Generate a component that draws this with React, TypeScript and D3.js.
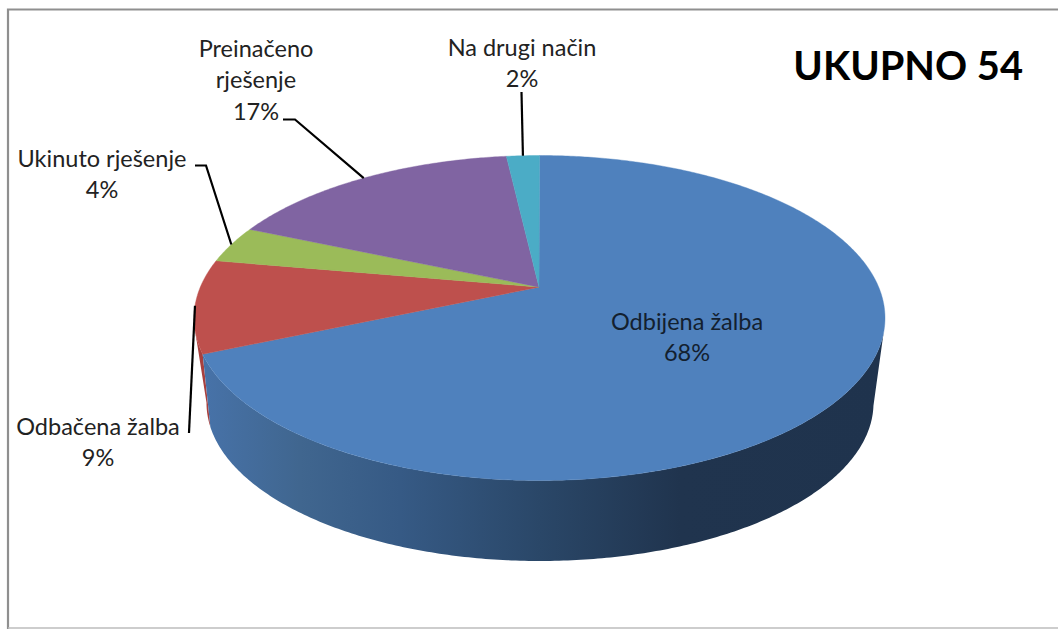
import React from "react";
import * as d3 from "d3";

const categories = ["Odbijena žalba", "Odbačena žalba", "Ukinuto rješenje", "Preinačeno rješenje", "Na drugi način"];
const counts = [37, 5, 2, 9, 1];
const percentLabels = ["68%", "9%", "4%", "17%", "2%"];
const colors = ["#4F81BD", "#BE504D", "#9BBB59", "#8064A2", "#4BACC6"];
const labelLines = [["Odbijena žalba"], ["Odbačena žalba"], ["Ukinuto rješenje"], ["Preinačeno", "rješenje"], ["Na drugi način"]];
const titleText = "UKUPNO 54";

const W = 1058, H = 629;
// Perspective model: a unit circle is projected on an ellipse, the pie centre moving along the vertical axis.
const topFace = { cx: 539.5, cy: 318, rx: 345.5, ry: 162.5, t: -0.19 };
const bottomFace = { cx: 540, cy: 403, rx: 333.5, ry: 158, t: -0.26 };
const SILHOUETTE_R = (106 * Math.PI) / 180;
const SILHOUETTE_L = (255 * Math.PI) / 180;

type Face = typeof topFace;
const project = (f: Face, a: number): [number, number] => {
  const u = Math.sin(a), v = -Math.cos(a);
  const d = 1 + f.t * v;
  return [f.cx + f.rx * (u * Math.sqrt(1 - f.t * f.t)) / d, f.cy + f.ry * (v + f.t) / d];
};
const apex: [number, number] = [topFace.cx - 0.5, topFace.cy + topFace.ry * topFace.t];
const sampleAngles = (a0: number, a1: number) => {
  const n = Math.max(2, Math.ceil(Math.abs(a1 - a0) / 0.01));
  return d3.range(n + 1).map((i) => a0 + ((a1 - a0) * i) / n);
};
const line = d3.line<[number, number]>();

const arcs = d3.pie<number>().sort(null).value((d) => d)(counts);

const wall = (a0: number, a1: number) =>
  line([
    ...sampleAngles(a0, a1).map((a) => project(topFace, a)),
    ...sampleAngles(a1, a0).map((a) => project(bottomFace, a)),
  ])! + "Z";

// Label placement: centre x and first baseline, plus the elbow of each leader.
const labelPos = [
  { x: 687, y: 330 },
  { x: 98, y: 435 },
  { x: 102, y: 167 },
  { x: 256, y: 57 },
  { x: 522, y: 56 },
];
const LINE_H = 31.3;
const leaders: ([number, number][] | null)[] = [
  null,
  [[189, 433]],
  [[195, 165.5], [206, 165.5]],
  [[283, 119.5], [295, 119.5]],
  [[521.5, 92]],
];

const gradientStops = [
  { x: 205, c: "#4772A8" },
  { x: 300, c: "#40668F" },
  { x: 400, c: "#365A85" },
  { x: 540, c: "#2A4768" },
  { x: 680, c: "#20344E" },
  { x: 885, c: "#1F334D" },
];
const FONT = "Lato, Carlito, Calibri, sans-serif";

export default function App() {
  const gx = d3.scaleLinear().domain([205, 885]).range([0, 1]);
  return (
    <svg width={W} height={H} viewBox={`0 0 ${W} ${H}`} style={{ position: "absolute", left: 0, top: 0, display: "block", background: "#fff" }}>
      <defs>
        <linearGradient id="blueSide" gradientUnits="userSpaceOnUse" x1={205} x2={885} y1={0} y2={0}>
          {gradientStops.map((s) => (
            <stop key={s.x} offset={gx(s.x)} stopColor={s.c} />
          ))}
        </linearGradient>
      </defs>
      <path d="M8 629V9.5H1058" fill="none" stroke="#8f8f8f" strokeWidth={2.2} />
      <line x1={8} x2={1058} y1={628} y2={628} stroke="#bdbdbd" strokeWidth={1.5} />

      <path d={wall(arcs[0].endAngle, SILHOUETTE_L)} fill="#A8403E" />
      <path d={wall(SILHOUETTE_R, arcs[0].endAngle)} fill="url(#blueSide)" />

      {arcs.map((a, i) => (
        <path
          key={categories[i]}
          d={line([apex, ...sampleAngles(a.startAngle, a.endAngle).map((t) => project(topFace, t))])! + "Z"}
          fill={colors[i]}
          stroke={colors[i]}
          strokeWidth={0.4}
        />
      ))}

      {arcs.map((a, i) => {
        const lead = leaders[i];
        if (!lead) return null;
        const end = project(topFace, (a.startAngle + a.endAngle) / 2);
        return <path key={i} d={line([...lead, end])!} fill="none" stroke="#000" strokeWidth={2.2} />;
      })}

      {labelLines.map((lines, i) => (
        <text key={i} textAnchor="middle" fontFamily={FONT} fontSize={23.5} fill={i === 0 ? "#13202f" : "#222"}>
          {[...lines, percentLabels[i]].map((s, j) => (
            <tspan key={j} x={labelPos[i].x} y={labelPos[i].y + j * LINE_H}>
              {s}
            </tspan>
          ))}
        </text>
      ))}
      <text x={1023} y={80} textAnchor="end" fontFamily={FONT} fontWeight={700} fontSize={39.8} fill="#000">
        {titleText}
      </text>
    </svg>
  );
}
